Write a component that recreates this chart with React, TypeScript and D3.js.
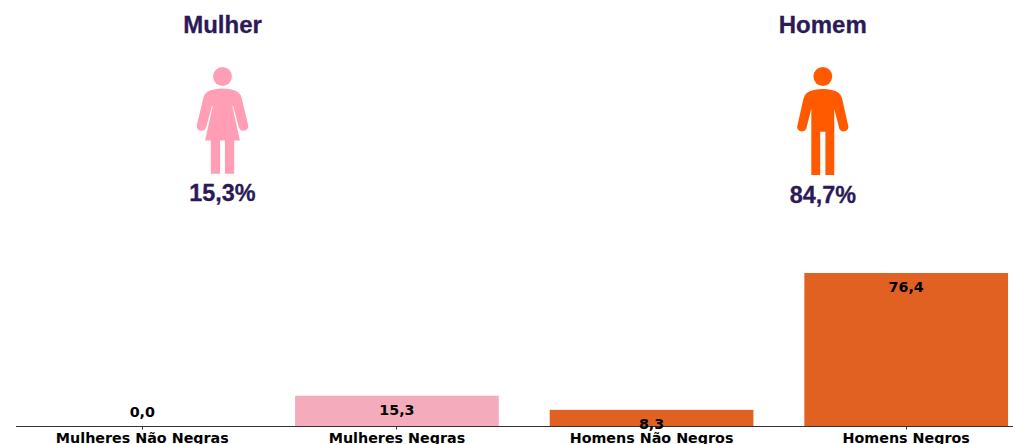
import React from "react";
import { scaleBand, scaleLinear } from "d3";

const categories = ["Mulheres Não Negras", "Mulheres Negras", "Homens Não Negros", "Homens Negros"];
const values = [0, 15.3, 8.3, 76.4];
const barColors = ["#f4abbc", "#f4abbc", "#e06122", "#e06122"];
const fmt = (v: number) => v.toFixed(1).replace(".", ",");

const womanPath =
  "M0 -47.5 C6 -47.5 12 -46.5 16 -43.5 Q18 -42 19 -38.5 L25.8 -10.5 A4.9 4.9 0 0 1 16.5 -8 L10.6 -30 L9.8 -30 L17.4 4.5 L11.7 4.5 L11.7 37.7 L2.4 37.7 L2.4 4.5 L-2.4 4.5 L-2.4 37.7 L-11.7 37.7 L-11.7 4.5 L-17.4 4.5 L-9.8 -30 L-10.6 -30 L-16.5 -8 A4.9 4.9 0 0 1 -25.8 -10.5 L-19 -38.5 Q-18 -42 -16 -43.5 C-12 -46.5 -6 -47.5 0 -47.5 Z";
const manPath =
  "M0 -47 C6 -47 12 -46 16 -43 Q18.5 -41 19.3 -37.5 L25.7 -9 A4.9 4.9 0 0 1 16.6 -7 L11.5 -27 L11.5 39 L2.6 39 L2.6 -4.3 L-2.6 -4.3 L-2.6 39 L-11.5 39 L-11.5 -27 L-16.6 -7 A4.9 4.9 0 0 1 -25.7 -9 L-19.3 -37.5 Q-18.5 -41 -16 -43 C-12 -46 -6 -47 0 -47 Z";

const icons = [
  { title: "Mulher", pct: "15,3%", cx: 222.5, color: "#ff9eb5", path: womanPath, pctY: 200.5 },
  { title: "Homem", pct: "84,7%", cx: 822.8, color: "#ff5a00", path: manPath, pctY: 202.5 },
];

const WIDTH = 1013;
const HEIGHT = 444;
const BASE = 426.5;

export default function App() {
  const x = scaleBand<string>()
    .domain(categories)
    .range([15, 1033.5])
    .paddingInner(0.2)
    .paddingOuter(0.1);
  const y = scaleLinear().domain([0, 76.4]).range([BASE, 273]);

  return (
    <svg
      width={WIDTH}
      height={HEIGHT}
      style={{ position: "absolute", left: 0, top: 0, background: "#fff" }}
    >
      {icons.map((d) => (
        <g key={d.title}>
          <text
            x={d.cx}
            y={32.5}
            textAnchor="middle"
            fontFamily="Liberation Sans"
            fontWeight="bold"
            fontSize={24}
            fill="#2c1a58"
            stroke="#2c1a58"
            strokeWidth={0.3}
          >
            {d.title}
          </text>
          <circle cx={d.cx} cy={76.5} r={9.4} fill={d.color} />
          <g transform={`translate(${d.cx},136)`}>
            <path d={d.path} fill={d.color} />
          </g>
          <text
            x={d.cx}
            y={d.pctY}
            textAnchor="middle"
            fontFamily="Liberation Sans"
            fontWeight="bold"
            fontSize={23.4}
            fill="#2c1a58"
            stroke="#2c1a58"
            strokeWidth={0.3}
          >
            {d.pct}
          </text>
        </g>
      ))}

      {categories.map((c, i) => (
        <rect
          key={c}
          x={x(c)}
          y={y(values[i])}
          width={x.bandwidth()}
          height={BASE - y(values[i])}
          fill={barColors[i]}
        />
      ))}

      <line x1={16} x2={WIDTH} y1={BASE} y2={BASE} stroke="#333" strokeWidth={1} />
      {categories.map((c) => {
        const cx = Math.floor(x(c)! + x.bandwidth() / 2) + 0.5;
        return <line key={c} x1={cx} x2={cx} y1={BASE} y2={BASE + 3} stroke="#333" strokeWidth={1} />;
      })}

      {categories.map((c, i) => {
        const cx = x(c)! + x.bandwidth() / 2;
        // labels sit on top of the small bars, inside the big one
        const ly = i === 0 ? 417 : y(values[i]) + 19;
        return (
          <text
            key={c}
            x={cx}
            y={ly}
            textAnchor="middle"
            fontFamily="DejaVu Sans"
            fontWeight="bold"
            fontSize={14.3}
            fill="#000"
          >
            {fmt(values[i])}
          </text>
        );
      })}

      {categories.map((c) => (
        <text
          key={c}
          x={x(c)! + x.bandwidth() / 2}
          y={443}
          textAnchor="middle"
          fontFamily="DejaVu Sans"
          fontWeight="bold"
          fontSize={14.3}
          fill="#000"
        >
          {c}
        </text>
      ))}
    </svg>
  );
}
